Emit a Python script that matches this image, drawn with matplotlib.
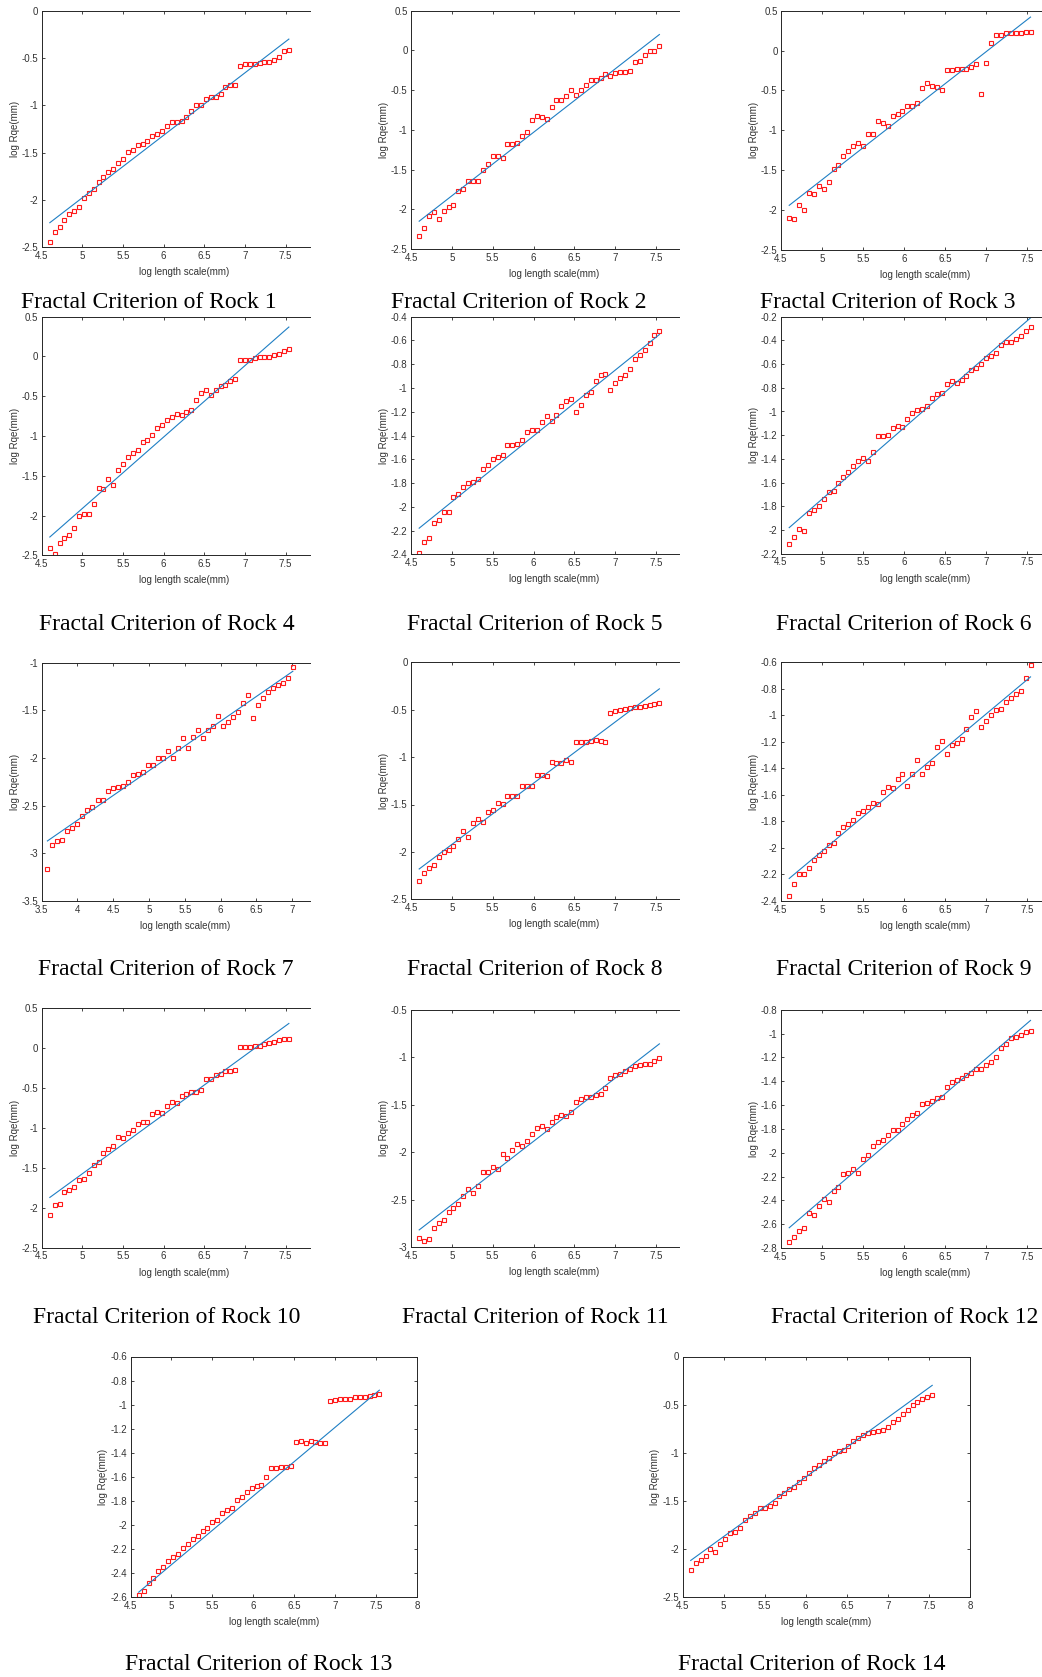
import numpy as np
import matplotlib
matplotlib.use("Agg")
import matplotlib.pyplot as plt
from matplotlib.ticker import FuncFormatter
from matplotlib.transforms import blended_transform_factory

plt.rcParams['axes.unicode_minus'] = False
plt.rcParams['font.family'] = ['Liberation Sans', 'DejaVu Sans']

# ---------------- data ----------------
X_STD = [4.60, 4.66, 4.72, 4.78, 4.84, 4.90, 4.96, 5.02, 5.08, 5.14,
         5.20, 5.26, 5.32, 5.38, 5.44, 5.50, 5.56, 5.62, 5.68, 5.74,
         5.80, 5.86, 5.92, 5.98, 6.04, 6.10, 6.16, 6.22, 6.28, 6.34,
         6.40, 6.46, 6.52, 6.58, 6.64, 6.70, 6.76, 6.82, 6.88, 6.94,
         7.00, 7.06, 7.12, 7.18, 7.24, 7.30, 7.36, 7.42, 7.48, 7.54]
X_ROCK7 = [3.58, 3.65, 3.72, 3.79, 3.86, 3.93, 4.00, 4.07, 4.14, 4.21,
           4.28, 4.35, 4.42, 4.49, 4.56, 4.63, 4.70, 4.77, 4.84, 4.91,
           4.98, 5.05, 5.12, 5.19, 5.26, 5.33, 5.40, 5.47, 5.54, 5.61,
           5.68, 5.75, 5.82, 5.89, 5.96, 6.03, 6.10, 6.17, 6.24, 6.31,
           6.38, 6.45, 6.52, 6.59, 6.66, 6.73, 6.80, 6.87, 6.94, 7.01]

rock1 = [-2.44, -2.34, -2.29, -2.21, -2.15, -2.12, -2.07, -1.98, -1.93, -1.88,
         -1.81, -1.76, -1.70, -1.67, -1.61, -1.57, -1.49, -1.47, -1.42, -1.41,
         -1.38, -1.32, -1.30, -1.27, -1.22, -1.18, -1.18, -1.17, -1.12, -1.06,
         -1.00, -1.00, -0.93, -0.91, -0.91, -0.88, -0.81, -0.78, -0.78, -0.58,
         -0.56, -0.56, -0.56, -0.55, -0.54, -0.54, -0.52, -0.49, -0.43, -0.42]
rock2 = [-2.34, -2.24, -2.09, -2.04, -2.12, -2.02, -1.97, -1.95, -1.77, -1.74,
         -1.64, -1.64, -1.65, -1.50, -1.43, -1.33, -1.33, -1.36, -1.18, -1.18,
         -1.17, -1.08, -1.03, -0.88, -0.82, -0.84, -0.86, -0.71, -0.62, -0.62,
         -0.58, -0.50, -0.56, -0.50, -0.44, -0.37, -0.37, -0.35, -0.30, -0.32,
         -0.29, -0.27, -0.27, -0.26, -0.15, -0.13, -0.06, -0.01, -0.01, 0.05]
rock3 = [-2.10, -2.11, -1.94, -2.00, -1.79, -1.80, -1.70, -1.73, -1.65, -1.49,
         -1.44, -1.32, -1.26, -1.20, -1.16, -1.20, -1.04, -1.05, -0.88, -0.91,
         -0.94, -0.82, -0.79, -0.76, -0.70, -0.70, -0.66, -0.47, -0.41, -0.45,
         -0.46, -0.49, -0.24, -0.24, -0.23, -0.23, -0.23, -0.20, -0.17, -0.55,
         -0.16, 0.10, 0.19, 0.20, 0.22, 0.22, 0.22, 0.22, 0.23, 0.23]
rock4 = [-2.41, -2.48, -2.34, -2.28, -2.25, -2.16, -2.01, -1.98, -1.98, -1.86,
         -1.66, -1.67, -1.54, -1.61, -1.43, -1.35, -1.27, -1.21, -1.17, -1.08,
         -1.05, -0.99, -0.90, -0.86, -0.80, -0.76, -0.72, -0.74, -0.70, -0.67,
         -0.55, -0.46, -0.42, -0.48, -0.42, -0.37, -0.36, -0.31, -0.28, -0.05,
         -0.04, -0.04, -0.02, -0.01, -0.01, -0.01, 0.02, 0.03, 0.07, 0.09]
rock5 = [-2.39, -2.30, -2.26, -2.14, -2.11, -2.04, -2.04, -1.92, -1.89, -1.83,
         -1.80, -1.79, -1.77, -1.68, -1.65, -1.60, -1.58, -1.56, -1.48, -1.48,
         -1.47, -1.44, -1.37, -1.35, -1.35, -1.29, -1.24, -1.28, -1.23, -1.15,
         -1.11, -1.09, -1.20, -1.14, -1.06, -1.03, -0.94, -0.89, -0.88, -1.02,
         -0.96, -0.92, -0.89, -0.84, -0.76, -0.72, -0.68, -0.62, -0.55, -0.52]
rock6 = [-2.12, -2.06, -1.99, -2.01, -1.86, -1.83, -1.80, -1.74, -1.68, -1.67,
         -1.60, -1.55, -1.51, -1.46, -1.42, -1.39, -1.42, -1.34, -1.21, -1.21,
         -1.20, -1.14, -1.12, -1.13, -1.06, -1.01, -0.99, -0.98, -0.95, -0.89,
         -0.85, -0.84, -0.77, -0.74, -0.76, -0.73, -0.70, -0.65, -0.63, -0.60,
         -0.55, -0.53, -0.51, -0.44, -0.41, -0.41, -0.39, -0.36, -0.32, -0.29]
rock7 = [-3.16, -2.91, -2.87, -2.86, -2.77, -2.73, -2.69, -2.61, -2.55, -2.51,
         -2.44, -2.44, -2.35, -2.31, -2.30, -2.29, -2.25, -2.18, -2.17, -2.15,
         -2.07, -2.07, -2.00, -2.00, -1.93, -2.00, -1.89, -1.79, -1.89, -1.78,
         -1.71, -1.79, -1.71, -1.66, -1.56, -1.66, -1.62, -1.57, -1.52, -1.42,
         -1.34, -1.58, -1.44, -1.37, -1.31, -1.27, -1.23, -1.21, -1.16, -1.05]
rock8 = [-2.31, -2.22, -2.17, -2.14, -2.05, -2.00, -1.98, -1.94, -1.86, -1.78,
         -1.84, -1.70, -1.65, -1.68, -1.58, -1.56, -1.48, -1.49, -1.41, -1.41,
         -1.41, -1.30, -1.31, -1.30, -1.19, -1.19, -1.20, -1.05, -1.06, -1.06,
         -1.03, -1.05, -0.84, -0.84, -0.84, -0.83, -0.82, -0.83, -0.84, -0.53,
         -0.51, -0.50, -0.49, -0.48, -0.47, -0.47, -0.46, -0.45, -0.44, -0.43]
rock9 = [-2.36, -2.27, -2.20, -2.20, -2.15, -2.09, -2.05, -2.02, -1.98, -1.96,
         -1.89, -1.84, -1.82, -1.79, -1.74, -1.72, -1.69, -1.66, -1.67, -1.58,
         -1.54, -1.55, -1.48, -1.44, -1.53, -1.44, -1.34, -1.44, -1.39, -1.36,
         -1.24, -1.19, -1.29, -1.22, -1.21, -1.18, -1.10, -1.01, -0.97, -1.09,
         -1.04, -1.00, -0.96, -0.95, -0.90, -0.87, -0.84, -0.82, -0.72, -0.62]
rock10 = [-2.09, -1.97, -1.95, -1.80, -1.78, -1.74, -1.65, -1.64, -1.57, -1.46,
          -1.42, -1.31, -1.26, -1.23, -1.11, -1.13, -1.06, -1.02, -0.95, -0.93,
          -0.92, -0.82, -0.80, -0.81, -0.73, -0.68, -0.69, -0.60, -0.57, -0.55,
          -0.55, -0.52, -0.39, -0.38, -0.33, -0.32, -0.29, -0.28, -0.27, 0.01,
          0.02, 0.02, 0.03, 0.03, 0.05, 0.06, 0.08, 0.10, 0.11, 0.12]
rock11 = [-2.90, -2.94, -2.92, -2.80, -2.75, -2.72, -2.63, -2.59, -2.55, -2.46,
          -2.39, -2.43, -2.36, -2.21, -2.21, -2.16, -2.18, -2.02, -2.06, -1.98,
          -1.92, -1.94, -1.88, -1.81, -1.75, -1.73, -1.76, -1.68, -1.63, -1.61,
          -1.62, -1.58, -1.47, -1.44, -1.42, -1.42, -1.40, -1.39, -1.33, -1.22,
          -1.19, -1.18, -1.15, -1.12, -1.09, -1.08, -1.07, -1.07, -1.04, -1.01]
rock12 = [-2.75, -2.71, -2.66, -2.63, -2.51, -2.52, -2.45, -2.39, -2.41, -2.32,
          -2.29, -2.18, -2.17, -2.14, -2.17, -2.05, -2.02, -1.94, -1.91, -1.89,
          -1.85, -1.81, -1.81, -1.76, -1.72, -1.68, -1.67, -1.59, -1.58, -1.57,
          -1.54, -1.53, -1.45, -1.41, -1.39, -1.37, -1.35, -1.33, -1.30, -1.30,
          -1.26, -1.24, -1.20, -1.12, -1.09, -1.04, -1.03, -1.01, -0.99, -0.98]
rock13 = [-2.58, -2.55, -2.48, -2.44, -2.38, -2.35, -2.30, -2.27, -2.24, -2.19,
          -2.16, -2.12, -2.09, -2.05, -2.03, -1.98, -1.96, -1.90, -1.88, -1.86,
          -1.79, -1.77, -1.73, -1.69, -1.68, -1.67, -1.60, -1.53, -1.53, -1.52,
          -1.52, -1.51, -1.31, -1.30, -1.32, -1.30, -1.31, -1.32, -1.32, -0.97,
          -0.96, -0.95, -0.95, -0.95, -0.94, -0.94, -0.94, -0.93, -0.92, -0.91]
rock14 = [-2.22, -2.15, -2.12, -2.07, -2.00, -2.03, -1.95, -1.90, -1.83, -1.82,
          -1.78, -1.70, -1.66, -1.63, -1.57, -1.57, -1.55, -1.52, -1.45, -1.42,
          -1.38, -1.36, -1.30, -1.26, -1.21, -1.16, -1.13, -1.09, -1.05, -1.00,
          -0.98, -0.97, -0.93, -0.88, -0.85, -0.82, -0.80, -0.79, -0.77, -0.76,
          -0.73, -0.68, -0.65, -0.60, -0.56, -0.50, -0.47, -0.44, -0.42, -0.40]

# fitted line (value at first x, value at last x)
fit_start = [-2.24, -2.15, -1.94, -2.27, -2.18, -1.98, -2.87, -2.18, -2.23, -1.87, -2.82, -2.63, -2.56, -2.12]
fit_end = [-0.30, 0.20, 0.42, 0.37, -0.55, -0.21, -1.09, -0.28, -0.71, 0.31, -0.86, -0.89, -0.88, -0.30]

y_limits = [(-2.5, 0), (-2.5, 0.5), (-2.5, 0.5), (-2.5, 0.5), (-2.4, -0.4), (-2.2, -0.2),
            (-3.5, -1), (-2.5, 0), (-2.4, -0.6), (-2.5, 0.5), (-3, -0.5), (-2.8, -0.8),
            (-2.6, -0.6), (-2.5, 0)]
y_steps = [0.5, 0.5, 0.5, 0.5, 0.2, 0.2, 0.5, 0.5, 0.2, 0.5, 0.5, 0.2, 0.2, 0.5]
titles = ["Fractal Criterion of Rock %d" % (i + 1) for i in range(14)]
x_label = "log length scale(mm)"
y_label = "log Rqe(mm)"

series = [rock1, rock2, rock3, rock4, rock5, rock6, rock7, rock8, rock9,
          rock10, rock11, rock12, rock13, rock14]
xs = [X_ROCK7 if i == 6 else X_STD for i in range(14)]

# ---------------- layout (pixels) ----------------
W, H = 1042, 1677
boxes = [
    (41.7, 10.7, 310, 247.3), (411, 10.7, 679, 249), (781, 10.7, 1042, 250),
    (41.7, 316.7, 310, 555.3), (411, 316.7, 679, 554.3), (781, 316.7, 1042, 553.7),
    (41.7, 662.7, 310, 901), (411, 662.3, 679, 899.3), (781, 662.3, 1042, 901),
    (41.7, 1008.3, 310, 1247.7), (411, 1009.7, 679, 1247), (781, 1009.7, 1042, 1248),
    (130.5, 1356.5, 417, 1597), (682.5, 1356.5, 970, 1597),
]
# visible x range (the source images were cropped at the right)
x_limits = [(4.5, 7.8), (4.5, 7.78), (4.5, 7.68), (4.5, 7.8), (4.5, 7.78), (4.5, 7.68),
            (3.5, 7.25), (4.5, 7.78), (4.5, 7.68), (4.5, 7.8), (4.5, 7.78), (4.5, 7.68),
            (4.5, 8.0), (4.5, 8.0)]
# centre of the original (uncropped) x range, where the x label sits
x_label_centre = [6.25, 6.25, 6.25, 6.25, 6.25, 6.25, 5.5, 6.25, 6.25, 6.25, 6.25, 6.25, 6.25, 6.25]
title_pos = [(149, 308), (519, 308), (888, 308),
             (167, 630), (535, 630), (904, 630),
             (166, 975), (535, 975), (904, 975),
             (167, 1323), (535, 1323), (905, 1323),
             (259, 1670), (812, 1670)]

fig = plt.figure(figsize=(W / 100, H / 100), dpi=100)
fig.patch.set_facecolor('white')

AX_COL = '#262626'
TXT_COL = '#333333'
fmt = FuncFormatter(lambda v, p: ('%g' % round(v, 3)) if abs(v) > 1e-9 else '0')

for i in range(14):
    l, t, r, b = boxes[i]
    wpx, hpx = r - l, b - t
    ax = fig.add_axes([l / W, 1 - b / H, wpx / W, hpx / H])
    x = xs[i]
    y = series[i]
    ax.plot(x, y, linestyle='none', marker='s', markersize=3.4, markerfacecolor='none',
            markeredgecolor='#ff1a1a', markeredgewidth=0.8)
    ax.plot([x[0], x[-1]], [fit_start[i], fit_end[i]], color='#1f7fc4', lw=0.8)
    ax.set_xlim(*x_limits[i])
    ax.set_ylim(*y_limits[i])
    lo, hi = y_limits[i]
    ax.set_yticks(np.round(np.arange(lo, hi + 1e-6, y_steps[i]), 2))
    xl0, xl1 = x_limits[i]
    ax.set_xticks(np.arange(xl0, xl1 + 1e-6, 0.5))
    ax.xaxis.set_major_formatter(fmt)
    ax.yaxis.set_major_formatter(fmt)
    full_box = i >= 12
    for side in ['left', 'bottom', 'top', 'right']:
        ax.spines[side].set_color(AX_COL)
        ax.spines[side].set_linewidth(0.7)
    ax.spines['right'].set_visible(full_box)
    ax.tick_params(direction='in', length=2.5, width=0.6, color=AX_COL,
                   labelsize=7, labelcolor=TXT_COL, top=True, right=full_box)
    ax.tick_params(axis='x', pad=2.6)
    ax.tick_params(axis='y', pad=2.4)
    ax.set_xlabel(x_label, fontsize=7, color=TXT_COL)
    ax.set_ylabel(y_label, fontsize=7, color=TXT_COL)
    blend = blended_transform_factory(ax.transData, ax.transAxes)
    ax.xaxis.set_label_coords(x_label_centre[i], -25.0 / hpx, transform=blend)
    ax.xaxis.label.set_verticalalignment('center')
    ax.yaxis.set_label_coords(-27.0 / wpx, 0.5)
    ax.yaxis.label.set_verticalalignment('center')
    tx, ty = title_pos[i]
    fig.text(tx / W, 1 - ty / H, titles[i], ha='center', va='baseline',
             fontsize=17, family='Liberation Serif', color='black')

fig.savefig('out.png', dpi=100, facecolor='white')
